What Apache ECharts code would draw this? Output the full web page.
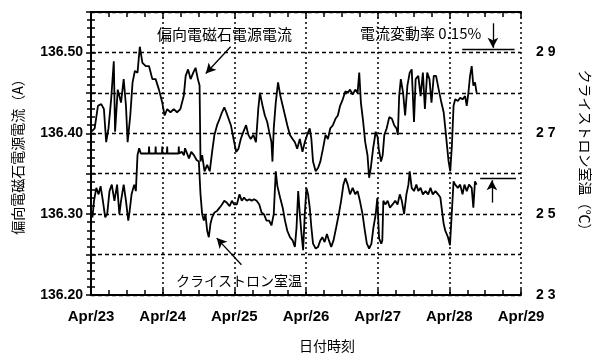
<!DOCTYPE html>
<html>
<head>
<meta charset="utf-8">
<script src="https://cdn.jsdelivr.net/npm/echarts@6/dist/echarts.min.js"></script>
<style>
  html, body { margin: 0; padding: 0; background: #fff; }
  #chart { width: 600px; height: 358px; }
</style>
</head>
<body>
<div id="chart"></div>
<script>
// days since Apr/23 00:00
const xTickLabels = ['Apr/23', 'Apr/24', 'Apr/25', 'Apr/26', 'Apr/27', 'Apr/28', 'Apr/29']
const currentTickLabels = ['136.20', '136.30', '136.40', '136.50']
const tempTickLabels = ['2 3', '2 5', '2 7', '2 9']

// 偏向電磁石電源電流 (A)
const currentDays = [
  0.005, 0.051, 0.097, 0.143, 0.180, 0.212, 0.244, 0.281, 0.318, 0.336, 0.373, 0.419, 0.456, 0.488, 0.511, 0.548,
  0.580, 0.612, 0.649, 0.681, 0.718, 0.764, 0.810, 0.856, 0.902, 0.948, 0.994, 1.027, 1.063, 1.109, 1.155, 1.201,
  1.247, 1.294, 1.321, 1.354, 1.390, 1.427, 1.459, 1.491, 1.515, 1.528, 1.551, 1.584, 1.621, 1.657, 1.690, 1.722,
  1.759, 1.795, 1.828, 1.860, 1.888, 1.920, 1.952, 1.989, 2.026, 2.058, 2.090, 2.127, 2.164, 2.196, 2.229, 2.265,
  2.302, 2.334, 2.357, 2.394, 2.426, 2.459, 2.486, 2.518, 2.532, 2.550, 2.578, 2.610, 2.643, 2.675, 2.707, 2.739,
  2.776, 2.813, 2.845, 2.877, 2.914, 2.951, 2.983, 3.016, 3.052, 3.075, 3.098, 3.135, 3.168, 3.200, 3.237, 3.273,
  3.306, 3.338, 3.375, 3.412, 3.444, 3.476, 3.513, 3.550, 3.582, 3.614, 3.651, 3.688, 3.720, 3.743, 3.766, 3.798,
  3.826, 3.858, 3.881, 3.904, 3.936, 3.973, 4.000, 4.015, 4.047, 4.070, 4.093, 4.125, 4.162, 4.199, 4.231, 4.263,
  4.282, 4.300, 4.323, 4.355, 4.383, 4.415, 4.447, 4.475, 4.507, 4.530, 4.567, 4.599, 4.631, 4.659, 4.691, 4.723,
  4.751, 4.783, 4.815, 4.852, 4.889, 4.921, 4.944, 4.967, 4.990, 5.013, 5.036, 5.059, 5.082, 5.119, 5.151, 5.184,
  5.220, 5.243, 5.266, 5.289, 5.312, 5.335, 5.358, 5.381
]
const currentAmps = [
  136.402, 136.406, 136.434, 136.436, 136.430, 136.389, 136.406, 136.442, 136.489, 136.402, 136.454, 136.438, 136.467, 136.434, 136.389, 136.422,
  136.463, 136.477, 136.475, 136.507, 136.487, 136.483, 136.483, 136.467, 136.467, 136.454, 136.438, 136.422, 136.430, 136.426, 136.430, 136.426,
  136.430, 136.446, 136.471, 136.479, 136.467, 136.475, 136.481, 136.467, 136.459, 136.365, 136.373, 136.353, 136.361, 136.353, 136.377, 136.398,
  136.410, 136.418, 136.426, 136.432, 136.426, 136.418, 136.410, 136.393, 136.377, 136.381, 136.393, 136.402, 136.410, 136.398, 136.393, 136.398,
  136.389, 136.430, 136.450, 136.434, 136.422, 136.414, 136.402, 136.389, 136.365, 136.406, 136.438, 136.463, 136.446, 136.434, 136.422, 136.410,
  136.398, 136.393, 136.389, 136.381, 136.393, 136.377, 136.389, 136.398, 136.406, 136.393, 136.365, 136.353, 136.357, 136.365, 136.381, 136.398,
  136.393, 136.406, 136.410, 136.418, 136.422, 136.434, 136.442, 136.452, 136.450, 136.454, 136.448, 136.454, 136.450, 136.475, 136.438, 136.414,
  136.389, 136.373, 136.345, 136.357, 136.381, 136.402, 136.395, 136.381, 136.365, 136.373, 136.398, 136.406, 136.420, 136.418, 136.410, 136.406,
  136.398, 136.446, 136.467, 136.450, 136.422, 136.459, 136.475, 136.479, 136.414, 136.467, 136.471, 136.446, 136.475, 136.430, 136.475, 136.467,
  136.438, 136.471, 136.471, 136.454, 136.438, 136.426, 136.406, 136.385, 136.365, 136.353, 136.385, 136.434, 136.442, 136.440, 136.444, 136.442,
  136.446, 136.434, 136.450, 136.471, 136.483, 136.459, 136.463, 136.450
]

// クライストロン室温 (℃)
const tempDays = [
  0.000, 0.020, 0.042, 0.074, 0.106, 0.134, 0.166, 0.198, 0.226, 0.258, 0.290, 0.327, 0.364, 0.396, 0.419, 0.456,
  0.488, 0.520, 0.534, 0.566, 0.603, 0.626, 0.649, 0.672, 0.695, 0.806, 0.810, 0.815, 0.898, 0.902, 0.906, 0.990,
  0.994, 0.998, 1.059, 1.063, 1.067, 1.221, 1.225, 1.229, 1.266, 1.298, 1.312, 1.335, 1.367, 1.399, 1.436, 1.473,
  1.505, 1.528, 1.551, 1.574, 1.597, 1.621, 1.644, 1.667, 1.690, 1.722, 1.759, 1.795, 1.828, 1.860, 1.897, 1.934,
  1.966, 1.998, 2.035, 2.072, 2.104, 2.136, 2.173, 2.210, 2.242, 2.275, 2.311, 2.348, 2.380, 2.413, 2.449, 2.486,
  2.518, 2.550, 2.578, 2.600, 2.640, 2.675, 2.707, 2.739, 2.776, 2.813, 2.845, 2.868, 2.891, 2.914, 2.937, 2.960,
  2.983, 3.006, 3.029, 3.052, 3.075, 3.098, 3.135, 3.168, 3.200, 3.228, 3.260, 3.292, 3.320, 3.352, 3.384, 3.421,
  3.458, 3.490, 3.522, 3.550, 3.582, 3.614, 3.651, 3.688, 3.720, 3.752, 3.789, 3.821, 3.849, 3.881, 3.913, 3.941,
  3.973, 3.995, 4.020, 4.050, 4.065, 4.079, 4.107, 4.139, 4.171, 4.208, 4.245, 4.277, 4.309, 4.337, 4.369, 4.401,
  4.429, 4.447, 4.475, 4.507, 4.540, 4.567, 4.599, 4.631, 4.668, 4.705, 4.737, 4.769, 4.806, 4.843, 4.875, 4.898,
  4.921, 4.944, 4.981, 5.009, 5.036, 5.059, 5.082, 5.119, 5.151, 5.184, 5.211, 5.243, 5.275, 5.312, 5.335, 5.358,
  5.381
]
const tempDeg = [
  25.00, 24.92, 25.33, 25.65, 25.49, 25.69, 25.33, 24.92, 25.00, 25.57, 25.73, 25.33, 25.73, 25.00, 25.33, 25.73,
  25.33, 24.84, 25.00, 25.49, 25.73, 25.57, 26.46, 26.63, 26.50, 26.50, 26.67, 26.50, 26.50, 26.67, 26.50, 26.50,
  26.67, 26.50, 26.50, 26.67, 26.50, 26.50, 26.67, 26.50, 26.54, 26.46, 26.63, 26.63, 26.38, 26.54, 26.46, 26.34,
  26.30, 25.49, 25.00, 24.84, 25.00, 24.59, 24.43, 24.76, 24.92, 25.04, 25.08, 25.16, 25.24, 25.33, 25.28, 25.20,
  25.33, 25.24, 25.24, 25.49, 25.33, 25.41, 25.33, 25.37, 25.33, 25.37, 25.33, 25.24, 25.04, 25.00, 24.84, 24.84,
  24.72, 25.00, 26.06, 25.70, 25.40, 25.16, 24.84, 24.59, 24.43, 24.35, 24.19, 24.67, 25.57, 25.00, 24.51, 24.11,
  25.00, 25.65, 25.49, 25.16, 24.67, 24.27, 24.15, 24.19, 24.35, 24.43, 24.31, 24.51, 24.35, 24.19, 24.35, 24.67,
  25.00, 25.33, 25.73, 25.89, 25.73, 25.49, 25.65, 25.49, 25.57, 25.33, 25.00, 24.59, 24.27, 24.15, 24.27, 24.67,
  25.00, 25.40, 24.40, 24.27, 24.35, 25.33, 25.24, 25.33, 25.16, 25.24, 25.33, 25.24, 25.49, 25.33, 25.00, 25.49,
  25.73, 26.06, 25.65, 25.57, 25.73, 25.57, 25.65, 25.49, 25.57, 25.49, 25.65, 25.49, 25.57, 25.49, 25.41, 25.08,
  24.76, 24.59, 24.43, 24.23, 24.27, 25.81, 25.73, 25.65, 25.73, 25.49, 25.73, 25.57, 25.73, 25.65, 25.16, 25.81,
  25.73
]

const chart = echarts.init(document.getElementById('chart'), null, { renderer: 'canvas' })

const tickFont = { fontFamily: 'Liberation Sans', fontWeight: 'bold', color: '#000' }
const jpFont = 'Noto Sans CJK JP'
const black = '#000'

function pickLabel(labels, v) {
  const hit = labels.find(s => Math.abs(parseFloat(s.replace(/\s/g, '')) - v) < 1e-6)
  return hit || ''
}

const xBase = {
  type: 'value',
  min: 0,
  max: 6,
  interval: 1,
  axisLine: { lineStyle: { color: black, width: 2 } },
  axisTick: { inside: true, length: 6, lineStyle: { color: black, width: 1.5 } },
  minorTick: { show: true, splitNumber: 4, length: 5, lineStyle: { color: black, width: 1.5 } }
}

const option = {
  animation: false,
  backgroundColor: '#fff',
  grid: { left: 91, right: 74, top: 12, bottom: 59 },
  xAxis: [
    {
      ...xBase,
      position: 'bottom',
      name: '日付時刻',
      nameLocation: 'middle',
      nameGap: 44,
      nameTextStyle: { fontFamily: jpFont, fontSize: 14, color: black, padding: [0, 0, 0, 42] },
      splitLine: { show: true, lineStyle: { color: black, type: [2, 3], width: 1.5 } },
      axisLabel: { ...tickFont, fontSize: 15, margin: 14, formatter: v => xTickLabels[Math.round(v)] }
    },
    {
      ...xBase,
      position: 'top',
      axisLabel: { show: false },
      splitLine: { show: false }
    }
  ],
  yAxis: [
    {
      type: 'value',
      position: 'left',
      min: 136.2,
      max: 136.55,
      interval: 0.05,
      name: '偏向電磁石電源電流（A）',
      nameLocation: 'middle',
      nameGap: 66,
      nameRotate: 90,
      nameTextStyle: { fontFamily: jpFont, fontSize: 14, color: black },
      axisLine: { lineStyle: { color: black, width: 2 } },
      axisTick: { inside: true, length: 5, lineStyle: { color: black, width: 1.5 } },
      minorTick: { show: true, splitNumber: 5, length: 4, lineStyle: { color: black, width: 1.5 } },
      splitLine: { show: true, lineStyle: { color: black, type: [4, 3], width: 1.3 } },
      axisLabel: { ...tickFont, fontSize: 14, margin: 8, formatter: v => pickLabel(currentTickLabels, v) }
    },
    {
      type: 'value',
      position: 'right',
      min: 23,
      max: 30,
      interval: 1,
      name: 'クライストロン室温（℃）',
      nameLocation: 'middle',
      nameGap: 57,
      nameRotate: -90,
      nameTextStyle: { fontFamily: jpFont, fontSize: 14, color: black },
      axisLine: { lineStyle: { color: black, width: 2 } },
      axisTick: { inside: true, length: 5, lineStyle: { color: black, width: 1.5 } },
      minorTick: { show: true, splitNumber: 5, length: 4, lineStyle: { color: black, width: 1.5 } },
      splitLine: { show: false },
      axisLabel: { ...tickFont, fontSize: 14, margin: 15, formatter: v => pickLabel(tempTickLabels, v) }
    }
  ],
  series: [
    {
      name: '偏向電磁石電源電流',
      type: 'line',
      xAxisIndex: 0,
      yAxisIndex: 0,
      showSymbol: false,
      lineStyle: { color: black, width: 1.8 },
      data: currentDays.map((d, i) => [d, currentAmps[i]]),
      markLine: {
        silent: true,
        symbol: ['none', 'arrow'],
        symbolSize: [8, 10],
        label: { show: false },
        lineStyle: { color: black, width: 1.3, type: 'solid' },
        data: [
          [{ coord: [1.948, 136.507] }, { coord: [1.602, 136.474] }],
          [{ coord: [2.099, 136.2374] }, { coord: [1.754, 136.2704] }],
          [{ coord: [5.608, 136.536] }, { coord: [5.608, 136.5057] }],
          [{ coord: [5.594, 136.3143] }, { coord: [5.594, 136.342] }],
          [{ coord: [5.18, 136.5045], symbol: 'none' }, { coord: [5.91, 136.5045], symbol: 'none' }],
          [{ coord: [5.43, 136.344], symbol: 'none' }, { coord: [5.93, 136.344], symbol: 'none' }]
        ]
      }
    },
    {
      name: 'クライストロン室温',
      type: 'line',
      xAxisIndex: 0,
      yAxisIndex: 1,
      showSymbol: false,
      lineStyle: { color: black, width: 1.8 },
      data: tempDays.map((d, i) => [d, tempDeg[i]])
    }
  ],
  graphic: [
    { type: 'text', x: 157, y: 34, style: { text: '偏向電磁石電源電流', font: '15px "Noto Sans CJK JP"', fill: black, verticalAlign: 'middle' } },
    { type: 'text', x: 360, y: 33, style: { text: '電流変動率 0.15%', font: '15px "Noto Sans CJK JP"', fill: black, verticalAlign: 'middle' } },
    { type: 'text', x: 176, y: 281, style: { text: 'クライストロン室温', font: '14px "Noto Sans CJK JP"', fill: black, verticalAlign: 'middle' } }
  ]
}

chart.setOption(option)
</script>
</body>
</html>
